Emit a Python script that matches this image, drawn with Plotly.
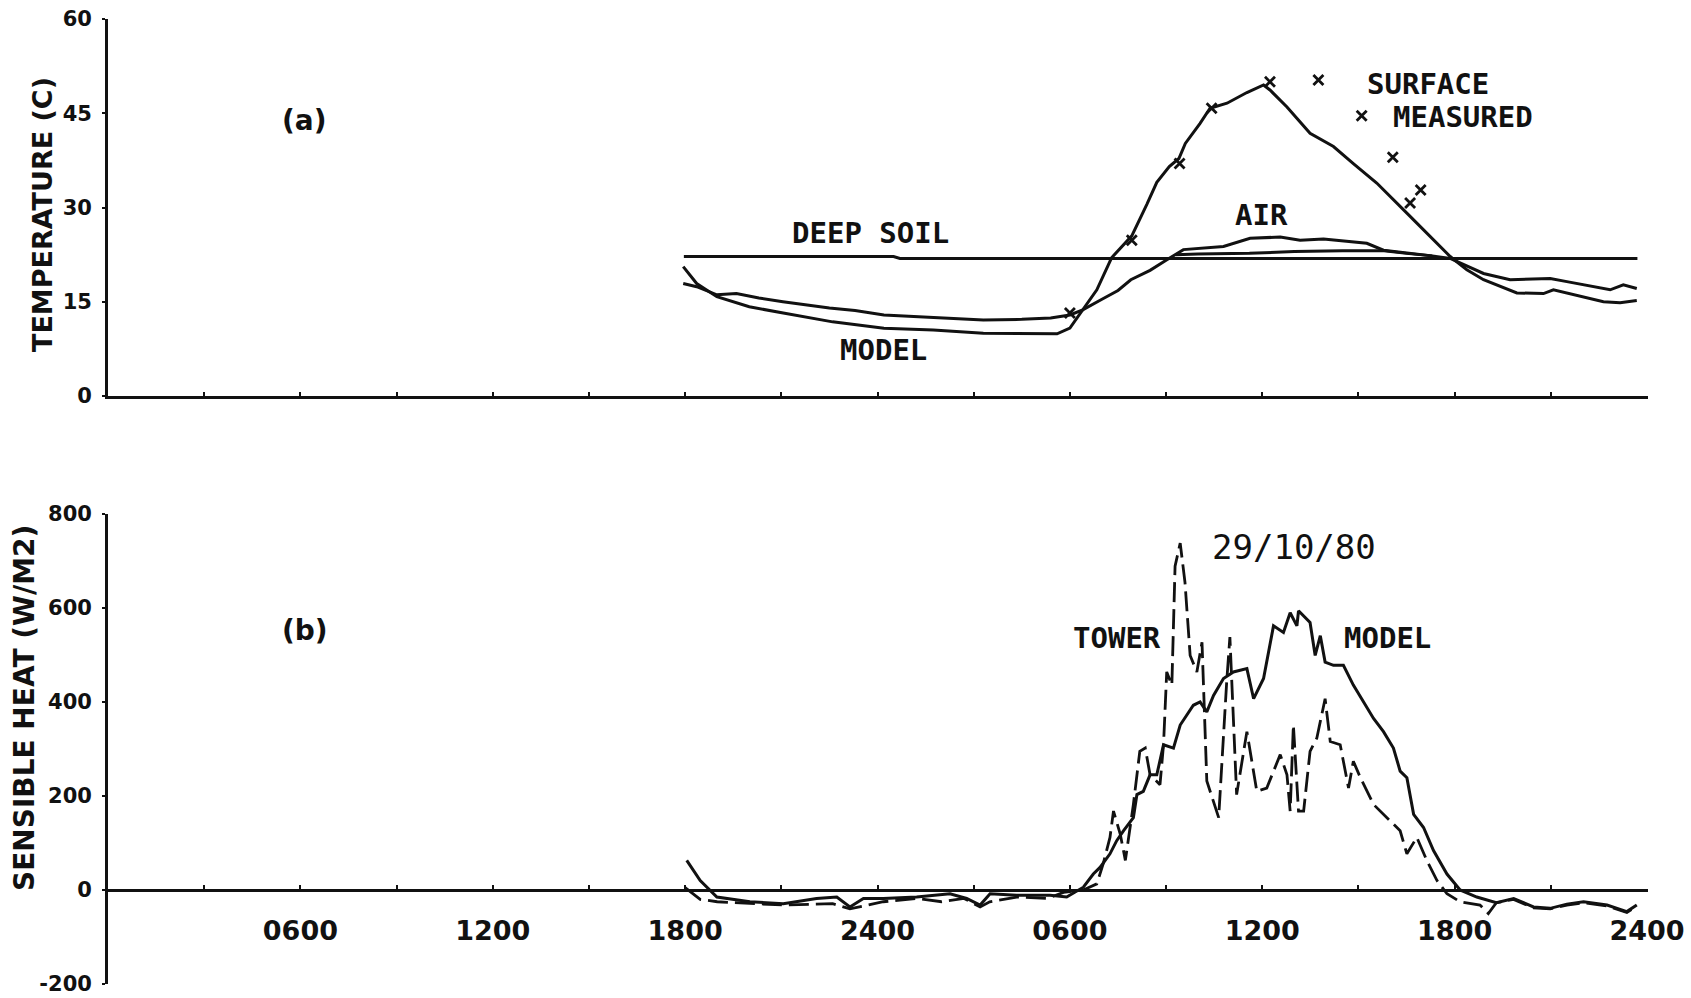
import plotly.graph_objects as go

# ---------------- data (hours from 00:00 of day 1) ----------------
surface_hours = [17.94, 18.36, 18.99, 20.0, 21.06, 22.6, 24.2, 25.74, 27.3, 28.5, 29.6, 30.0, 30.4, 30.84,
                 31.3, 31.93, 32.4, 32.71, 33.1, 33.4, 33.6, 34.06, 34.37, 34.9, 35.52, 35.9, 36.04, 36.24,
                 36.77, 37.49, 38.22, 38.84, 39.57, 40.51, 41.13, 41.86, 42.38, 42.9, 43.94, 44.77, 45.08,
                 46.02, 46.64, 47.16, 47.68]
surface_model = [20.6, 17.9, 15.8, 14.2, 13.2, 11.8, 10.8, 10.5, 10.0, 9.9, 9.9, 10.8, 13.7, 16.9,
                 22.0, 25.5, 30.5, 34.0, 36.5, 37.8, 40.2, 43.4, 45.8, 46.6, 48.3, 49.2, 49.5, 48.7,
                 46.0, 41.8, 39.7, 37.0, 33.9, 29.1, 25.9, 22.2, 20.1, 18.5, 16.4, 16.3, 16.9,
                 15.8, 15.0, 14.85, 15.2]

air_hours = [17.94, 18.36, 18.99, 19.6, 20.3, 21.05, 22.5, 23.3, 24.2, 25.7, 27.3, 28.5, 29.4, 30.0, 30.4,
             31.0, 31.5, 31.9, 32.5, 33.0, 33.33, 33.54, 34.79, 35.62, 36.56, 37.18, 37.91, 39.26, 39.78,
             40.5, 41.3, 41.86, 42.4, 42.9, 43.73, 44.98, 45.5, 46.33, 46.85, 47.26, 47.68]
air_model = [17.9, 17.4, 16.1, 16.3, 15.6, 15.0, 14.0, 13.6, 12.9, 12.5, 12.1, 12.2, 12.4, 12.9, 13.7,
             15.4, 16.8, 18.5, 20.0, 21.6, 22.7, 23.3, 23.8, 25.1, 25.3, 24.8, 25.0, 24.3, 23.2,
             22.8, 22.3, 21.9, 20.6, 19.5, 18.5, 18.7, 18.2, 17.4, 16.9, 17.7, 17.1]

upper_soil_hours = [33.3, 34.0, 35.6, 37.0, 38.5, 39.8, 40.5, 41.3]
upper_soil = [22.5, 22.6, 22.7, 23.0, 23.1, 23.1, 22.7, 22.3]

deep_soil_hours = [17.96, 24.5, 24.7, 47.7]
deep_soil = [22.2, 22.2, 21.9, 21.9]

measured_hours = [30.0, 31.93, 33.42, 34.42, 36.24, 37.75, 39.1, 40.07, 40.61, 40.94]
measured_surface = [13.2, 24.8, 37.0, 45.8, 50.0, 50.3, 44.6, 38.0, 30.7, 32.8]

model_hours = [18.05, 18.47, 18.99, 20.02, 21.06, 22.1, 22.73, 23.14, 23.56, 24.18, 25.22, 25.74, 26.26,
               26.78, 27.2, 27.51, 28.34, 29.38, 29.9, 30.42, 30.73, 30.94, 31.25, 31.46, 31.67, 31.98,
               32.09, 32.29, 32.5, 32.71, 32.92, 33.23, 33.44, 33.85, 34.06, 34.27, 34.48, 34.79, 35.1,
               35.52, 35.73, 36.04, 36.35, 36.66, 36.87, 37.08, 37.13, 37.49, 37.65, 37.81, 37.96, 38.22,
               38.53, 38.84, 39.16, 39.47, 39.78, 40.09, 40.3, 40.51, 40.72, 41.03, 41.34, 41.76, 42.17,
               42.69, 43.3, 43.84, 44.46, 44.98, 45.5, 46.02, 46.75, 47.37, 47.68]
model_heat = [63, 20, -15, -25, -29, -18, -15, -36, -18, -18, -15, -11, -8,
              -18, -32, -8, -11, -11, -15, 6, 34, 48, 77, 105, 126, 154,
              203, 210, 245, 245, 309, 302, 351, 393, 400, 379, 414, 450, 464,
              471, 407, 450, 562, 548, 590, 562, 594, 569, 499, 541, 485, 478,
              478, 436, 400, 365, 337, 302, 253, 239, 161, 133, 84, 34, 0,
              -15, -27, -18, -36, -39, -30, -25, -32, -46, -32]

tower_hours = [18.0, 18.47, 19.0, 20.02, 21.06, 22.6, 23.14, 24.18, 25.22, 26.0, 26.7, 27.2, 27.5, 28.34,
               29.3, 29.8, 30.42, 30.84, 31.04, 31.25, 31.36, 31.57, 31.73, 31.98, 32.18, 32.35, 32.5,
               32.81, 32.92, 33.02, 33.18, 33.28, 33.44, 33.59, 33.75, 33.96, 34.12, 34.27, 34.64, 34.89,
               34.99, 35.2, 35.52, 35.83, 36.14, 36.56, 36.77, 36.87, 36.97, 37.13, 37.29, 37.49, 37.7,
               37.96, 38.12, 38.43, 38.69, 38.84, 39.06, 39.47, 39.88, 40.3, 40.51, 40.82, 41.13, 41.45,
               41.76, 42.17, 42.79, 43.05, 43.3, 43.84, 44.46, 44.98, 45.5, 46.02, 46.75, 47.37, 47.68]
tower_heat = [5, -20, -25, -29, -32, -29, -40, -25, -18, -25, -18, -36, -25, -15,
              -18, -5, 0, 13, 56, 112, 168, 119, 63, 182, 295, 302, 245,
              224, 309, 464, 436, 689, 738, 654, 499, 464, 527, 232, 154, 443,
              538, 203, 337, 210, 217, 288, 245, 168, 351, 168, 168, 295, 323,
              407, 316, 309, 217, 274, 239, 182, 154, 126, 77, 112, 63, 20,
              -8, -25, -32, -50, -27, -20, -38, -40, -32, -27, -34, -48, -34]

tick_hours = [3, 6, 9, 12, 15, 18, 21, 24, 27, 30, 33, 36, 39, 42, 45, 48]
tick_labels = ["", "0600", "", "1200", "", "1800", "", "2400", "", "0600", "", "1200", "", "1800", "", "2400"]
temp_ticks = [0, 15, 30, 45, 60]
temp_tick_labels = ["0", "15", "30", "45", "60"]
heat_ticks = [-200, 0, 200, 400, 600, 800]
heat_tick_labels = ["-200", "0", "200", "400", "600", "800"]
heat_range = [-200, 800]

# ---------------- figure ----------------
W, H = 1691, 998
INK = "#111111"
FONT = "DejaVu Sans"
MONO = "DejaVu Sans Mono"

def px_x(px):
    return px / W

def px_y(py):
    return 1 - py / H

# bottom panel pixel extent; zero line position derived from the axis range
B_BOTTOM, B_TOP = 984, 514
zero_py = B_BOTTOM - (B_BOTTOM - B_TOP) * (0 - heat_range[0]) / (heat_range[1] - heat_range[0])

line_style = dict(color=INK, width=3)

fig = go.Figure()
fig.add_trace(go.Scatter(x=deep_soil_hours, y=deep_soil, mode="lines", line=line_style, xaxis="x", yaxis="y"))
fig.add_trace(go.Scatter(x=upper_soil_hours, y=upper_soil, mode="lines", line=line_style, xaxis="x", yaxis="y"))
fig.add_trace(go.Scatter(x=air_hours, y=air_model, mode="lines", line=line_style, xaxis="x", yaxis="y"))
fig.add_trace(go.Scatter(x=surface_hours, y=surface_model, mode="lines", line=line_style, xaxis="x", yaxis="y"))
fig.add_trace(go.Scatter(x=measured_hours, y=measured_surface, mode="markers",
                         marker=dict(symbol="x-thin-open", size=10, color=INK,
                                     line=dict(color=INK, width=2.8)),
                         xaxis="x", yaxis="y"))
fig.add_trace(go.Scatter(x=tower_hours, y=tower_heat, mode="lines",
                         line=dict(color=INK, width=2.8, dash="20px,7px"), xaxis="x2", yaxis="y2"))
fig.add_trace(go.Scatter(x=model_hours, y=model_heat, mode="lines", line=line_style, xaxis="x2", yaxis="y2"))

xdom = [px_x(108), px_x(1648)]
xrange_ = [0, 48.03]
tickfont = dict(family=FONT, size=21, color=INK, weight="bold")
xtickfont = dict(family=FONT, size=27, color=INK, weight="bold")

common_x = dict(domain=xdom, range=xrange_, showgrid=False, zeroline=False, showline=True,
                linecolor=INK, linewidth=2.8, ticks="inside", ticklen=4, tickwidth=2, tickcolor=INK,
                tickmode="array", tickvals=tick_hours, fixedrange=True, automargin=False)
common_y = dict(showgrid=False, zeroline=False, showline=True, linecolor=INK, linewidth=2.8,
                ticks="outside", ticklen=3, tickwidth=2, tickcolor=INK, tickmode="array",
                tickfont=tickfont, ticklabelstandoff=6, ticklabeloverflow="allow",
                fixedrange=True, automargin=False)

fig.update_layout(
    template="none",
    width=W, height=H, autosize=False,
    margin=dict(l=0, r=0, t=0, b=0, pad=0),
    paper_bgcolor="white", plot_bgcolor="white",
    showlegend=False,
    xaxis=dict(common_x, anchor="y", showticklabels=False),
    yaxis=dict(common_y, domain=[px_y(396), px_y(19)], range=[0, 60], anchor="x",
               tickvals=temp_ticks, ticktext=temp_tick_labels),
    xaxis2=dict(common_x, anchor="free", position=px_y(zero_py), ticktext=tick_labels,
                tickfont=xtickfont, ticklabelstandoff=16, ticklabeloverflow="allow"),
    yaxis2=dict(common_y, domain=[px_y(B_BOTTOM), px_y(B_TOP)], range=heat_range, anchor="x2",
                tickvals=heat_ticks, ticktext=heat_tick_labels),
)

label_font = dict(family=MONO, size=29, color=INK, weight="bold")

def label(text, x, y, xref="x", yref="y", font=label_font, angle=0):
    fig.add_annotation(text=text, x=x, y=y, xref=xref, yref=yref, showarrow=False,
                       font=font, textangle=angle, xanchor="center", yanchor="middle")

paren_font = dict(family=FONT, size=28, color=INK, weight="bold")
label("(a)", 6.14, 43.8, font=paren_font)
label("DEEP SOIL", 23.77, 25.9)
label("MODEL", 24.2, 7.3)
label("AIR", 35.96, 28.8)
label("SURFACE", 41.17, 49.7)
label("MEASURED", 42.25, 44.4)

label("(b)", 6.14, 552, xref="x2", yref="y2", font=paren_font)
label("29/10/80", 36.99, 730, xref="x2", yref="y2",
      font=dict(family=MONO, size=34, color=INK))
label("TOWER", 31.47, 536, xref="x2", yref="y2")
label("MODEL", 39.89, 536, xref="x2", yref="y2")

label("TEMPERATURE (C)", px_x(43), px_y(215), xref="paper", yref="paper",
      font=dict(family=FONT, size=27, color=INK, weight="bold"), angle=-90)
label("SENSIBLE HEAT (W/M2)", px_x(24), px_y(708), xref="paper", yref="paper",
      font=dict(family=FONT, size=28, color=INK, weight="bold"), angle=-90)

fig.write_html("out.html", config={"displayModeBar": False},
               post_script="document.body.style.margin='0';document.body.style.overflow='hidden';")
